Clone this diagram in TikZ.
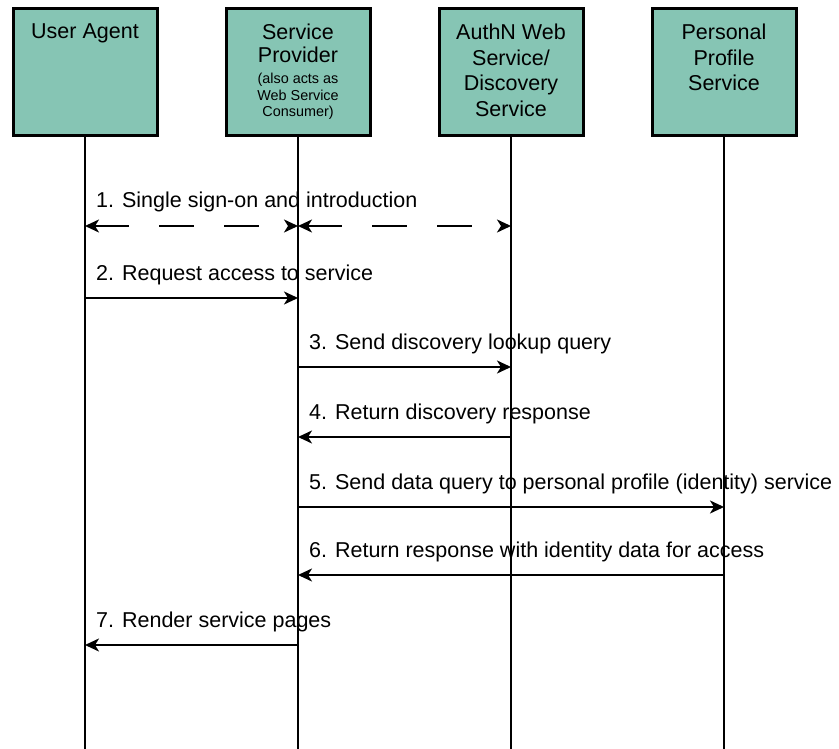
\documentclass[tikz,border=0pt]{standalone}
\usepackage{fontspec}
\setmainfont{Liberation Sans}
\usepackage{xcolor}
\usepackage{tikz}
\usetikzlibrary{arrows.meta, positioning}
\definecolor{actorfill}{RGB}{134,197,180}
\tikzset{
  % Header boxes of the lifelines
  actor/.style={rectangle, draw=black, line width=3pt, fill=actorfill, minimum width=144pt, minimum height=127pt, inner sep=0pt},
  actortext/.style={anchor=north, align=center, inner sep=0pt, outer sep=0pt, font=\fontsize{21.5}{25.5}\selectfont},
  notetext/.style={anchor=north, align=center, inner sep=0pt, outer sep=0pt, font=\fontsize{14.4}{16.5}\selectfont},
  lifeline/.style={line width=2pt},
  % Messages
  msg/.style={-{Stealth[length=14pt, width=13pt, inset=4pt]}, line width=2pt},
  dmsg/.style={{Stealth[length=14pt, width=13pt, inset=4pt]}-{Stealth[length=14pt, width=13pt, inset=4pt]}, line width=2pt, dash pattern=on 35pt off 30pt},
  msglabel/.style={anchor=base west, xshift=11pt, yshift=18pt, inner sep=0pt, font=\fontsize{21.5}{25}\selectfont},
}

\begin{document}
\begin{tikzpicture}[x=1pt, y=-1pt, node distance=66pt]
    \useasboundingbox (0,0) rectangle (839,749);

    % Headers
    \node[actor] (ua) at (85,72.5) {};
    \node[actor, right=of ua] (sp) {};
    \node[actor, right=of sp] (authn) {};
    \node[actor, right=of authn] (pp) {};

    \node[actortext] (uatext) at ([yshift=-16.5pt]ua.north) {User Agent};
    \node[actortext, font=\fontsize{21.5}{22.5}\selectfont] (sptext) at ([yshift=-16.5pt]sp.north) {Service\\Provider};
    \node[notetext, below=11pt of sptext] (spnote) {(also acts as\\Web Service\\Consumer)};
    \node[actortext] (authntext) at ([yshift=-16.5pt]authn.north) {AuthN Web\\Service/\\Discovery\\Service};
    \node[actortext] (pptext) at ([yshift=-16.5pt]pp.north) {Personal\\Profile\\Service};

    % Lifelines
    \coordinate (bottom) at (0,749);
    \foreach \a in {ua, sp, authn, pp}
      \draw[lifeline] (\a.south) -- (\a |- bottom);

    % Message levels
    \coordinate (m1) at (0,226);
    \coordinate (m2) at (0,298);
    \coordinate (m3) at (0,367);
    \coordinate (m4) at (0,437);
    \coordinate (m5) at (0,507);
    \coordinate (m6) at (0,575);
    \coordinate (m7) at (0,645);

% === Messages ===
    \draw[dmsg] (ua |- m1) -- (sp |- m1);
    \draw[dmsg] (sp |- m1) -- (authn |- m1);
    \path (ua |- m1) node[msglabel] (l1) {1. Single sign-on and introduction};

    \draw[msg] (ua |- m2) -- (sp |- m2);
    \path (ua |- m2) node[msglabel] (l2) {2. Request access to service};

    \draw[msg] (sp |- m3) -- (authn |- m3);
    \path (sp |- m3) node[msglabel] (l3) {3. Send discovery lookup query};

    \draw[msg] (authn |- m4) -- (sp |- m4);
    \path (sp |- m4) node[msglabel] (l4) {4. Return discovery response};

    \draw[msg] (sp |- m5) -- (pp |- m5);
    \path (sp |- m5) node[msglabel] (l5) {5. Send data query to personal profile (identity) service};

    \draw[msg] (pp |- m6) -- (sp |- m6);
    \path (sp |- m6) node[msglabel] (l6) {6. Return response with identity data for access};

    \draw[msg] (sp |- m7) -- (ua |- m7);
    \path (ua |- m7) node[msglabel] (l7) {7. Render service pages};
\end{tikzpicture}
\end{document}
